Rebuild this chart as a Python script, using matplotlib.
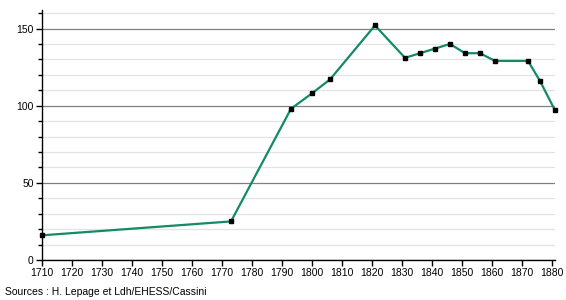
import matplotlib
matplotlib.use("Agg")
import matplotlib.pyplot as plt
from matplotlib.ticker import MultipleLocator

plt.rcParams['font.family'] = ['Liberation Sans', 'DejaVu Sans']

years = [1710, 1773, 1793, 1800, 1806, 1821, 1831, 1836, 1841, 1846,
         1851, 1856, 1861, 1872, 1876, 1881]
population = [16, 25, 98, 108, 117, 152, 131, 134, 137, 140,
              134, 134, 129, 129, 116, 97]
source_text = "Sources : H. Lepage et Ldh/EHESS/Cassini"

fig = plt.figure(figsize=(5.66, 3.0), dpi=100)
ax = fig.add_axes([42 / 566, 40 / 300, (555 - 42) / 566, 250 / 300])

ax.plot(years, population, color='#138a68', linewidth=1.6, zorder=3,
        marker='s', markersize=3.2, markerfacecolor='black',
        markeredgecolor='black', clip_on=False)

ax.set_xlim(1710, 1881)
ax.set_ylim(0, 162)
ax.xaxis.set_major_locator(MultipleLocator(10))
ax.yaxis.set_major_locator(MultipleLocator(50))
ax.yaxis.set_minor_locator(MultipleLocator(10))

ax.grid(axis='y', which='minor', color='#e3e3e3', linewidth=0.9, zorder=0)
ax.grid(axis='y', which='major', color='#808080', linewidth=0.9, zorder=1)

for s in ['top', 'right']:
    ax.spines[s].set_visible(False)
for s in ['left', 'bottom']:
    ax.spines[s].set_linewidth(1.0)
    ax.spines[s].set_color('black')

ax.tick_params(axis='both', which='both', direction='out', length=4,
               width=1, labelsize=7.5, pad=2)
ax.tick_params(axis='y', which='minor', length=3)

fig.text(5 / 566, 1 - 297 / 300, source_text, fontsize=7.5, va='bottom')

fig.savefig("out.png", dpi=100)
